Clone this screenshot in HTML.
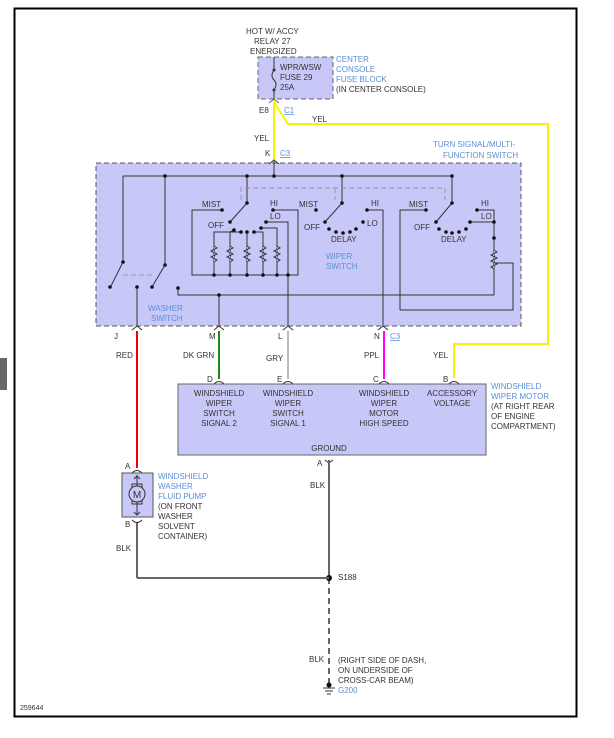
<!DOCTYPE html>
<html><head><meta charset="utf-8"><style>
html,body{margin:0;padding:0;background:#fff;width:614px;height:738px;overflow:hidden}
text{font-family:"Liberation Sans",sans-serif;font-size:8px;fill:#333}
.b{fill:#5b8fd6}
</style></head><body>
<svg width="614" height="738" viewBox="0 0 614 738" xmlns="http://www.w3.org/2000/svg">
<rect x="0" y="358" width="7" height="32" fill="#666"/>
<rect x="14.5" y="8.5" width="562" height="708" fill="none" stroke="#000" stroke-width="2"/>
<!-- fuse block -->
<rect x="258" y="57" width="75" height="42" fill="#c8c8f8" stroke="#666" stroke-dasharray="5,3"/>
<g stroke="#333" fill="none">
<line x1="274" y1="57" x2="274" y2="70"/><path d="M274 70 q-4 6 0 10 q4 4 0 10"/><line x1="274" y1="90" x2="274" y2="99"/>
</g>
<circle cx="274" cy="70" r="1.5" fill="#333"/><circle cx="274" cy="90" r="1.5" fill="#333"/>
<path d="M269 103 l5 -4 l5 4" stroke="#666" fill="none"/>
<text x="246" y="34">HOT W/ ACCY</text><text x="254" y="44">RELAY 27</text><text x="250" y="54">ENERGIZED</text>
<text x="280" y="70">WPR/WSW</text><text x="280" y="80">FUSE 29</text><text x="280" y="90">25A</text>
<text x="336" y="62" class="b">CENTER</text><text x="336" y="72" class="b">CONSOLE</text><text x="336" y="82" class="b">FUSE BLOCK</text><text x="336" y="92">(IN CENTER CONSOLE)</text>
<text x="259" y="113">E8</text><text x="284" y="113" class="b" text-decoration="underline">C1</text>
<text x="312" y="122">YEL</text><text x="254" y="141">YEL</text>
<text x="265" y="156">K</text><text x="280" y="156" class="b" text-decoration="underline">C3</text>
<!-- yellow -->
<g stroke="#f4f400" stroke-width="2" fill="none">
<polyline points="274,100 274,160"/>
<polyline points="274,102 288,124 548,124 548,344 454,344 454,378"/>
</g>
<!-- turn signal box -->
<text x="433" y="147" class="b">TURN SIGNAL/MULTI-</text><text x="443" y="158" class="b">FUNCTION SWITCH</text>
<rect x="96" y="163" width="425" height="163" fill="#c8c8f8" stroke="#555" stroke-dasharray="5,3"/>
<path d="M269 164 l5 -4 l5 4" stroke="#333" fill="none"/>
<g stroke="#333" fill="none" stroke-width="1">
<line x1="274" y1="161" x2="274" y2="176"/>
<line x1="123" y1="176" x2="452" y2="176"/>
<line x1="123" y1="176" x2="123" y2="262"/><line x1="165" y1="176" x2="165" y2="265"/>
<line x1="123" y1="262" x2="110" y2="288"/><line x1="165" y1="265" x2="152" y2="287"/>
<line x1="137" y1="288" x2="137" y2="326"/>
<polyline points="178,288 178,295 494,295 494,222"/>
<line x1="219" y1="295" x2="219" y2="326"/>
<!-- wiper 1 -->
<line x1="247" y1="176" x2="247" y2="203"/><line x1="247" y1="203" x2="230" y2="222"/>
<polyline points="222,210 192,210 192,275 298,275 298,210 273,210"/>
<polyline points="266,222 288,222 288,326"/>
<polyline points="234,230 234,232 214,232 214,275"/>
<line x1="234" y1="230" x2="230" y2="232"/>
<polyline points="241,232 230,232 230,275"/>
<line x1="247" y1="232" x2="247" y2="275"/>
<polyline points="254,232 263,232 263,275"/>
<polyline points="261,228 277,228 277,275"/>
<!-- wiper 2 -->
<line x1="342" y1="176" x2="342" y2="203"/><line x1="342" y1="203" x2="325" y2="222"/>
<polyline points="367,210 383,210 383,326"/>
<!-- wiper 3 -->
<line x1="452" y1="176" x2="452" y2="203"/><line x1="452" y1="203" x2="436" y2="222"/>
<polyline points="477,210 494,210 494,222"/>
<line x1="470" y1="222" x2="494" y2="222"/>
<polyline points="400,310 400,210 426,210"/>
<polyline points="400,310 513,310 513,263 494,263"/>
</g>
<g stroke="#333" fill="#c8c8f8">
<path d="M214 246 l3 2 l-6 3 l6 3 l-6 3 l6 3 l-3 2"/>
<path d="M230 246 l3 2 l-6 3 l6 3 l-6 3 l6 3 l-3 2"/>
<path d="M247 246 l3 2 l-6 3 l6 3 l-6 3 l6 3 l-3 2"/>
<path d="M263 246 l3 2 l-6 3 l6 3 l-6 3 l6 3 l-3 2"/>
<path d="M277 246 l3 2 l-6 3 l6 3 l-6 3 l6 3 l-3 2"/>
<path d="M494 250 l3 2 l-6 3 l6 3 l-6 3 l6 3 l-6 3 l3 2"/>
</g>
<g stroke="#999" stroke-dasharray="5,3" fill="none">
<line x1="123" y1="275" x2="155" y2="275"/>
<polyline points="241,200 241,188 445,188 445,200"/>
<line x1="335" y1="188" x2="335" y2="200"/>
</g>
<g fill="#111">
<circle cx="165" cy="176" r="1.8"/><circle cx="247" cy="176" r="1.8"/><circle cx="274" cy="176" r="1.8"/><circle cx="342" cy="176" r="1.8"/><circle cx="452" cy="176" r="1.8"/>
<circle cx="123" cy="262" r="1.8"/><circle cx="165" cy="265" r="1.8"/><circle cx="110" cy="287" r="1.8"/><circle cx="137" cy="287" r="1.8"/><circle cx="152" cy="287" r="1.8"/><circle cx="178" cy="288" r="1.8"/><circle cx="219" cy="295" r="1.8"/>
<circle cx="247" cy="203" r="1.8"/><circle cx="222" cy="210" r="1.8"/><circle cx="230" cy="222" r="1.8"/><circle cx="273" cy="210" r="1.8"/><circle cx="266" cy="222" r="1.8"/>
<circle cx="234" cy="230" r="1.8"/><circle cx="241" cy="232" r="1.8"/><circle cx="247" cy="232" r="1.8"/><circle cx="254" cy="232" r="1.8"/><circle cx="261" cy="228" r="1.8"/>
<circle cx="214" cy="275" r="1.8"/><circle cx="230" cy="275" r="1.8"/><circle cx="247" cy="275" r="1.8"/><circle cx="263" cy="275" r="1.8"/><circle cx="277" cy="275" r="1.8"/><circle cx="288" cy="275" r="1.8"/>
<circle cx="342" cy="203" r="1.8"/><circle cx="316" cy="210" r="1.8"/><circle cx="325" cy="222" r="1.8"/><circle cx="367" cy="210" r="1.8"/>
<circle cx="329" cy="229" r="1.8"/><circle cx="336" cy="232" r="1.8"/><circle cx="343" cy="233" r="1.8"/><circle cx="350" cy="232" r="1.8"/><circle cx="356" cy="229" r="1.8"/><circle cx="363" cy="222" r="1.8"/>
<circle cx="452" cy="203" r="1.8"/><circle cx="426" cy="210" r="1.8"/><circle cx="436" cy="222" r="1.8"/><circle cx="477" cy="210" r="1.8"/><circle cx="470" cy="222" r="1.8"/><circle cx="494" cy="222" r="1.8"/><circle cx="494" cy="238" r="1.8"/>
<circle cx="439" cy="229" r="1.8"/><circle cx="446" cy="232" r="1.8"/><circle cx="452" cy="233" r="1.8"/><circle cx="459" cy="232" r="1.8"/><circle cx="466" cy="229" r="1.8"/>
</g>
<text x="202" y="207">MIST</text><text x="270" y="206">HI</text><text x="270" y="219">LO</text><text x="208" y="228">OFF</text>
<text x="299" y="207">MIST</text><text x="371" y="206">HI</text><text x="304" y="230">OFF</text><text x="367" y="226">LO</text><text x="331" y="242">DELAY</text>
<text x="409" y="207">MIST</text><text x="481" y="206">HI</text><text x="481" y="219">LO</text><text x="414" y="230">OFF</text><text x="441" y="242">DELAY</text>
<text x="326" y="259" class="b">WIPER</text><text x="326" y="269" class="b">SWITCH</text>
<text x="148" y="311" class="b">WASHER</text><text x="151" y="321" class="b">SWITCH</text>
<g stroke="#333" fill="none"><path d="M132 330 l5 -4 l5 4"/><path d="M214 330 l5 -4 l5 4"/><path d="M283 330 l5 -4 l5 4"/><path d="M378 330 l5 -4 l5 4"/></g>
<text x="114" y="339">J</text><text x="209" y="339">M</text><text x="278" y="339">L</text><text x="374" y="339">N</text><text x="390" y="339" class="b" text-decoration="underline">C3</text>
<!-- wires -->
<line x1="137" y1="331" x2="137" y2="468" stroke="#e00" stroke-width="2"/>
<line x1="219" y1="331" x2="219" y2="379" stroke="#1a8a1a" stroke-width="2"/>
<line x1="288" y1="331" x2="288" y2="379" stroke="#bbb" stroke-width="2"/>
<line x1="384" y1="331" x2="384" y2="379" stroke="#f0f" stroke-width="2"/>
<text x="116" y="358">RED</text><text x="183" y="358">DK GRN</text><text x="266" y="361">GRY</text><text x="364" y="358">PPL</text><text x="433" y="358">YEL</text>
<!-- motor -->
<rect x="178" y="384" width="308" height="71" fill="#c8c8f8" stroke="#666"/>
<g stroke="#333" fill="none"><path d="M214 384 q5 -5 10 0"/><path d="M283 384 q5 -5 10 0"/><path d="M379 384 q5 -5 10 0"/><path d="M449 384 q5 -5 10 0"/></g>
<text x="207" y="382">D</text><text x="277" y="382">E</text><text x="373" y="382">C</text><text x="443" y="382">B</text>
<g text-anchor="middle">
<text x="219" y="396">WINDSHIELD</text><text x="219" y="406">WIPER</text><text x="219" y="416">SWITCH</text><text x="219" y="426">SIGNAL 2</text>
<text x="288" y="396">WINDSHIELD</text><text x="288" y="406">WIPER</text><text x="288" y="416">SWITCH</text><text x="288" y="426">SIGNAL 1</text>
<text x="384" y="396">WINDSHIELD</text><text x="384" y="406">WIPER</text><text x="384" y="416">MOTOR</text><text x="384" y="426">HIGH SPEED</text>
<text x="452" y="396">ACCESSORY</text><text x="452" y="406">VOLTAGE</text>
<text x="329" y="451">GROUND</text></g>
<text x="491" y="389" class="b">WINDSHIELD</text><text x="491" y="399" class="b">WIPER MOTOR</text><text x="491" y="409">(AT RIGHT REAR</text><text x="491" y="419">OF ENGINE</text><text x="491" y="429">COMPARTMENT)</text>
<!-- ground wire -->
<path d="M325 460 l4 3 l4 -3" stroke="#333" fill="none"/>
<text x="317" y="466">A</text><text x="310" y="488">BLK</text>
<line x1="329" y1="460" x2="329" y2="578" stroke="#666" stroke-width="2"/>
<line x1="329" y1="578" x2="329" y2="683" stroke="#666" stroke-width="2" stroke-dasharray="6,4"/>
<circle cx="329" cy="578" r="3" fill="#111"/>
<text x="338" y="580">S188</text>
<line x1="137" y1="522" x2="137" y2="578" stroke="#666" stroke-width="2"/>
<line x1="137" y1="578" x2="329" y2="578" stroke="#666" stroke-width="2"/>
<g stroke="#333"><line x1="323" y1="688" x2="335" y2="688"/><line x1="325" y1="691" x2="333" y2="691"/><line x1="327" y1="694" x2="331" y2="694"/></g>
<circle cx="329" cy="685" r="2.5" fill="#111"/>
<text x="309" y="662">BLK</text>
<text x="338" y="663">(RIGHT SIDE OF DASH,</text><text x="338" y="673">ON UNDERSIDE OF</text><text x="338" y="683">CROSS-CAR BEAM)</text><text x="338" y="693" class="b">G200</text>
<!-- pump -->
<text x="125" y="469">A</text><text x="125" y="527">B</text>
<path d="M132 473 q5 -5 10 0" stroke="#333" fill="none"/><path d="M132 520 q5 5 10 0" stroke="#333" fill="none"/>
<rect x="122" y="473" width="31" height="44" fill="#c8c8f8" stroke="#555"/>
<g stroke="#333" fill="none"><line x1="137" y1="475" x2="137" y2="515"/><path d="M134 479 l3 -3 l3 3"/><path d="M134 512 l3 3 l3 -3"/><rect x="132" y="484" width="10" height="20"/></g>
<circle cx="137" cy="494" r="8" fill="#c8c8f8" stroke="#333"/>
<text x="137" y="498" text-anchor="middle" style="font-size:10px">M</text>
<text x="158" y="479" class="b">WINDSHIELD</text><text x="158" y="489" class="b">WASHER</text><text x="158" y="499" class="b">FLUID PUMP</text><text x="158" y="509">(ON FRONT</text><text x="158" y="519">WASHER</text><text x="158" y="529">SOLVENT</text><text x="158" y="539">CONTAINER)</text>
<text x="116" y="551">BLK</text>
<text x="20" y="710" style="font-size:7px">259644</text>
</svg>
</body></html>
